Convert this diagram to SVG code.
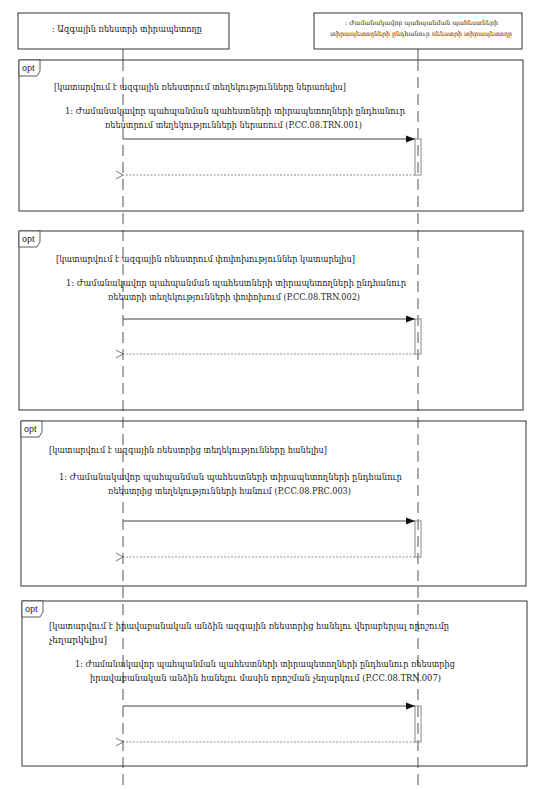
<svg xmlns="http://www.w3.org/2000/svg" width="549" height="789" viewBox="0 0 549 789">
<style>
text{font-family:"DejaVu Serif","Liberation Serif","DejaVu Sans",serif;fill:#222}
.hdr{fill:#fff;stroke:#333;stroke-width:1}
.frame{fill:none;stroke:#333;stroke-width:1}
.tab{fill:#fff;stroke:#333;stroke-width:0.8}
.life{stroke:#555;stroke-width:1;stroke-dasharray:11,6;fill:none}
.msg{stroke:#444;stroke-width:1;fill:none}
.ret{stroke:#777;stroke-width:0.8;stroke-dasharray:2,1.5;fill:none}
.act{fill:none;stroke:#888;stroke-width:1}
.g{font-size:9px}
.m{font-size:9px}
.opt{font-size:10px;font-family:"Liberation Serif",serif}
</style>
<defs>
<marker id="fill" markerWidth="10" markerHeight="8" refX="9" refY="4" orient="auto" markerUnits="userSpaceOnUse">
<path d="M0,0.5 L9,4 L0,7.5 Z" fill="#111"/>
</marker>
<marker id="open" markerWidth="10" markerHeight="10" refX="1" refY="5" orient="auto" markerUnits="userSpaceOnUse">
<path d="M8,1 L1,5 L8,9" fill="none" stroke="#555" stroke-width="0.8"/>
</marker>
</defs>

<g id="lifelines">
<line x1="123" y1="49" x2="123" y2="60" stroke="#555"/>
<line x1="418" y1="49" x2="418" y2="60" stroke="#555"/>
<line class="life" x1="123" y1="60" x2="123" y2="789"/>
<line class="life" x1="418" y1="60" x2="418" y2="789"/>
</g>

<g id="node-national">
<rect class="hdr" x="18" y="13" width="211" height="36"/>
<text x="52" y="32" font-size="10" textLength="150" lengthAdjust="spacingAndGlyphs">: Ազգային ռեեստրի տիրապետողը</text>
</g>
<g id="node-general">
<rect class="hdr" x="314" y="13" width="208" height="36"/>
<text x="345" y="25" font-size="6.5" textLength="153" lengthAdjust="spacingAndGlyphs">: Ժամանակավոր պահպանման պահեստների</text>
<text x="330" y="36" font-size="6.5" textLength="182" lengthAdjust="spacingAndGlyphs">տիրապետողների ընդհանուր ռեեստրի տիրապետողը</text>
</g>

<g id="frame-1">
<rect class="frame" x="19" y="60" width="504" height="151"/>
<path class="tab" d="M19,60 H40 V71 L37,76 H19 Z"/>
<text class="opt" x="22" y="71">opt</text>
<text class="g" x="54" y="90" textLength="292" lengthAdjust="spacingAndGlyphs">[կատարվում է ազգային ռեեստրում տեղեկությունները ներառելիս]</text>
<text class="m" x="65" y="114" textLength="340" lengthAdjust="spacingAndGlyphs">1: Ժամանակավոր պահպանման պահեստների տիրապետողների ընդհանուր</text>
<text class="m" x="105" y="128" textLength="257" lengthAdjust="spacingAndGlyphs">ռեեստրում տեղեկությունների ներառում (P.CC.08.TRN.001)</text>
</g>
<g id="frame-2">
<rect class="frame" x="19" y="231" width="504" height="179"/>
<path class="tab" d="M19,231 H40 V242 L37,247 H19 Z"/>
<text class="opt" x="22" y="242">opt</text>
<text class="g" x="56" y="262" textLength="299" lengthAdjust="spacingAndGlyphs">[կատարվում է ազգային ռեեստրում փոփոխություններ կատարելիս]</text>
<text class="m" x="66" y="286" textLength="340" lengthAdjust="spacingAndGlyphs">1: Ժամանակավոր պահպանման պահեստների տիրապետողների ընդհանուր</text>
<text class="m" x="108" y="300" textLength="252" lengthAdjust="spacingAndGlyphs">ռեեստրի տեղեկությունների փոփոխում (P.CC.08.TRN.002)</text>
</g>
<g id="frame-3">
<rect class="frame" x="21" y="421" width="505" height="165"/>
<path class="tab" d="M21,421 H42 V432 L39,437 H21 Z"/>
<text class="opt" x="24" y="432">opt</text>
<text class="g" x="49" y="453" textLength="278" lengthAdjust="spacingAndGlyphs">[կատարվում է ազգային ռեեստրից տեղեկությունները հանելիս]</text>
<text class="m" x="59" y="480" textLength="343" lengthAdjust="spacingAndGlyphs">1: Ժամանակավոր պահպանման պահեստների տիրապետողների ընդհանուր</text>
<text class="m" x="108" y="494" textLength="243" lengthAdjust="spacingAndGlyphs">ռեեստրից տեղեկությունների հանում (P.CC.08.PRC.003)</text>
</g>
<g id="frame-4">
<rect class="frame" x="22" y="601" width="505" height="165"/>
<path class="tab" d="M22,601 H43 V612 L40,617 H22 Z"/>
<text class="opt" x="25" y="612">opt</text>
<text class="g" x="49" y="629" textLength="400" lengthAdjust="spacingAndGlyphs">[կատարվում է իրավաբանական անձին ազգային ռեեստրից  հանելու վերաբերյալ որոշումը</text>
<text class="g" x="49" y="643" textLength="58" lengthAdjust="spacingAndGlyphs">չեղարկելիս]</text>
<text class="m" x="75" y="667" textLength="380" lengthAdjust="spacingAndGlyphs">1: Ժամանակավոր պահպանման պահեստների տիրապետողների ընդհանուր ռեեստրից</text>
<text class="m" x="90" y="681" textLength="351" lengthAdjust="spacingAndGlyphs">իրավաբանական անձին հանելու մասին որոշման չեղարկում (P.CC.08.TRN.007)</text>
</g>

<g id="activations">
<rect class="act" x="415" y="139" width="6" height="36"/>
<rect class="act" x="415" y="319" width="6" height="35"/>
<rect class="act" x="415" y="521" width="6" height="36"/>
<rect class="act" x="415" y="706" width="6" height="36"/>
</g>

<g id="connectors">
<line class="msg" x1="123" y1="139" x2="415" y2="139" marker-end="url(#fill)"/>
<line class="ret" x1="415" y1="175" x2="123" y2="175" marker-end="url(#open)"/>
<line class="msg" x1="123" y1="319" x2="415" y2="319" marker-end="url(#fill)"/>
<line class="ret" x1="415" y1="354" x2="123" y2="354" marker-end="url(#open)"/>
<line class="msg" x1="123" y1="521" x2="415" y2="521" marker-end="url(#fill)"/>
<line class="ret" x1="415" y1="557" x2="123" y2="557" marker-end="url(#open)"/>
<line class="msg" x1="123" y1="706" x2="415" y2="706" marker-end="url(#fill)"/>
<line class="ret" x1="415" y1="742" x2="123" y2="742" marker-end="url(#open)"/>
</g>
</svg>
